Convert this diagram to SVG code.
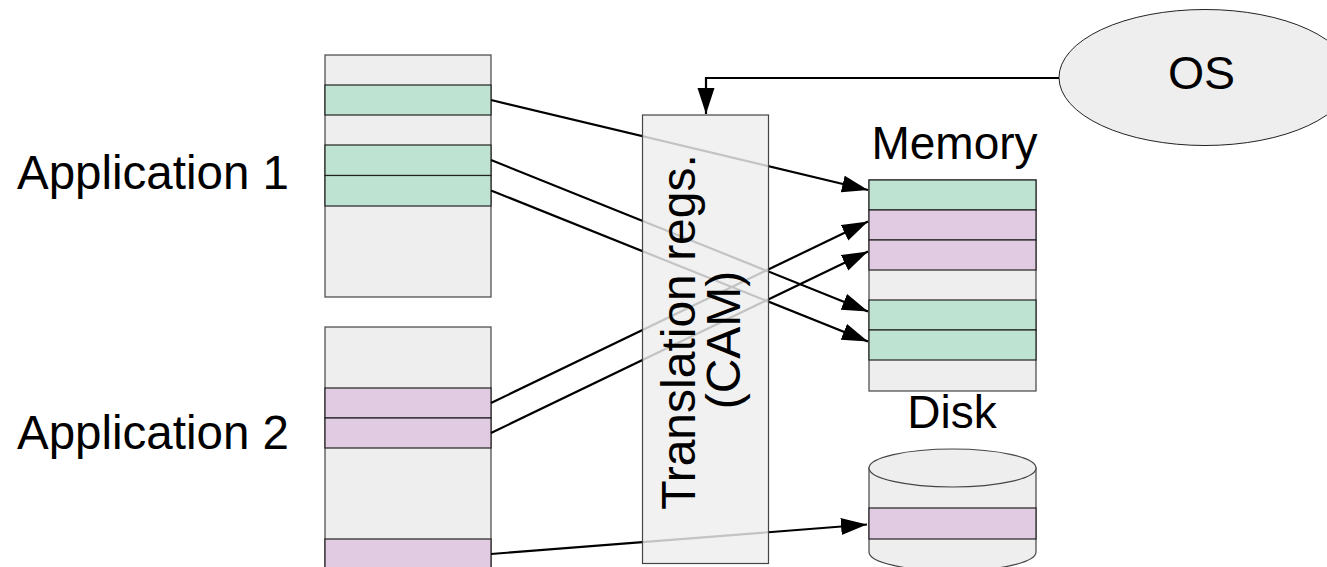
<svg xmlns="http://www.w3.org/2000/svg" width="1327" height="567" viewBox="0 0 1327 567">
<style>
.t{font-family:"Liberation Sans",Arial,sans-serif;font-size:46px;fill:#000}
.g{fill:#eeeeee;stroke:#444;stroke-width:1.2}
.gr{fill:#bee3d3;stroke:#222;stroke-width:1.2}
.pu{fill:#e0cbe3;stroke:#222;stroke-width:1.2}
.c{fill:none;stroke:#000;stroke-width:2.2;marker-end:url(#ah)}
</style>
<defs>
<marker id="ah" markerUnits="userSpaceOnUse" markerWidth="27" markerHeight="18" refX="26" refY="8.5" orient="auto" viewBox="0 0 27 18">
<path d="M0,0 L26,8.5 L0,17 Z" fill="#000"/>
</marker>
</defs>
<rect width="1327" height="567" fill="#fff"/>

<g id="app1">
<rect class="g" x="325" y="55" width="166" height="242"/>
<rect class="gr" x="325" y="85" width="166" height="30"/>
<rect class="gr" x="325" y="145" width="166" height="30.5"/>
<rect class="gr" x="325" y="175.5" width="166" height="30.5"/>
<text class="t" x="17" y="189" style="font-size:47.5px">Application 1</text>
</g>

<g id="app2">
<rect class="g" x="325" y="327" width="166" height="250"/>
<rect class="pu" x="325" y="388" width="166" height="30"/>
<rect class="pu" x="325" y="418" width="166" height="30"/>
<rect class="pu" x="325" y="539" width="166" height="40"/>
<text class="t" x="17" y="449" style="font-size:47.5px">Application 2</text>
</g>

<g id="memory">
<rect class="g" x="869" y="180" width="167" height="211"/>
<rect class="gr" x="869" y="180" width="167" height="30"/>
<rect class="pu" x="869" y="210" width="167" height="30"/>
<rect class="pu" x="869" y="240" width="167" height="30"/>
<rect class="gr" x="869" y="300" width="167" height="30"/>
<rect class="gr" x="869" y="330" width="167" height="30"/>
<text class="t" x="954.5" y="159" text-anchor="middle">Memory</text>
</g>

<g id="disk">
<path class="g" d="M869,468 L869,552 A83.5,19 0 0 0 1036,552 L1036,468 Z"/>
<rect class="pu" x="869" y="508" width="167" height="31"/>
<ellipse class="g" cx="952.5" cy="468" rx="83.5" ry="19"/>
<text class="t" x="952" y="428" text-anchor="middle">Disk</text>
</g>

<g id="os">
<ellipse cx="1205" cy="77.5" rx="146" ry="68" fill="#eeeeee" stroke="#222" stroke-width="1"/>
<text class="t" x="1201.5" y="89" text-anchor="middle" style="font-size:46.5px">OS</text>
</g>

<g id="connectors">
<path class="c" d="M491,100 L868,190"/>
<path class="c" d="M491,160 L868,311.5"/>
<path class="c" d="M491,190.5 L868,341.5"/>
<path class="c" d="M491,403 L868,221.5"/>
<path class="c" d="M491,433 L868,251.5"/>
<path class="c" d="M491,554 L867,524.5"/>
<path class="c" d="M1059,78 L706,78 L706,114"/>
</g>

<g id="translation">
<rect x="642.5" y="115" width="126" height="448.5" fill="#eeeeee" fill-opacity="0.82" stroke="#444" stroke-width="1.2"/>
<text class="t" transform="translate(695,332) rotate(-90)" text-anchor="middle" style="font-size:48px">Translation regs.</text>
<text class="t" transform="translate(740,340) rotate(-90)" text-anchor="middle" style="font-size:48px">(CAM)</text>
</g>
</svg>
